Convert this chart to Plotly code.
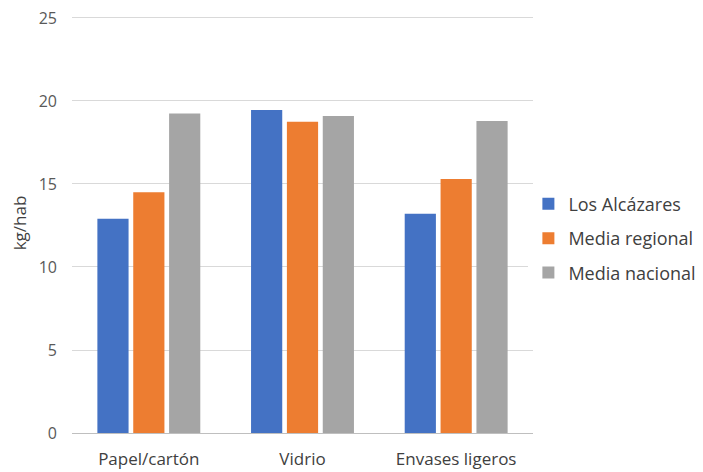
import plotly.graph_objects as go

categorias = ['Papel/cartón', 'Vidrio', 'Envases ligeros']
los_alcazares = [12.9, 19.45, 13.2]
media_regional = [14.5, 18.75, 15.3]
media_nacional = [19.25, 19.1, 18.8]

series = [
    ('Los Alcázares', los_alcazares, '#4472C4'),
    ('Media regional', media_regional, '#ED7D31'),
    ('Media nacional', media_nacional, '#A5A5A5'),
]

fig = go.Figure()
for nombre, valores, color in series:
    fig.add_trace(go.Bar(
        x=categorias,
        y=valores,
        name=nombre,
        legendgroup=nombre,
        marker=dict(color=color, line=dict(width=0)),
    ))

# the page body has an 8px margin, so margins are shifted to compensate
fig.update_layout(
    width=703,
    height=472,
    margin=dict(l=64, r=178, t=5, b=47, autoexpand=False),
    plot_bgcolor='white',
    paper_bgcolor='white',
    font=dict(family='Open Sans, Liberation Sans, sans-serif', size=14, color='#595959'),
    barmode='group',
    bargap=0.3,
    bargroupgap=0.13,
    legend=dict(
        x=0.99, y=0.463, xanchor='left', yanchor='middle',
        font=dict(size=18, color='#404040'),
        tracegroupgap=8,
    ),
    xaxis=dict(
        showline=True, linecolor='#bfbfbf', linewidth=1,
        ticks='', ticklabelstandoff=11,
        tickfont=dict(size=17, color='#404040'),
    ),
    yaxis=dict(
        range=[0, 25.3], tickvals=[0, 5, 10, 15, 20, 25],
        showgrid=True, gridcolor='#d9d9d9', gridwidth=1,
        zeroline=False, ticks='', ticklabelstandoff=14,
        ticklabeloverflow='allow',
        title=dict(text='kg/hab', font=dict(size=17, color='#404040'), standoff=10),
        tickfont=dict(size=16, color='#595959'),
    ),
)

fig.write_html('out.html')
